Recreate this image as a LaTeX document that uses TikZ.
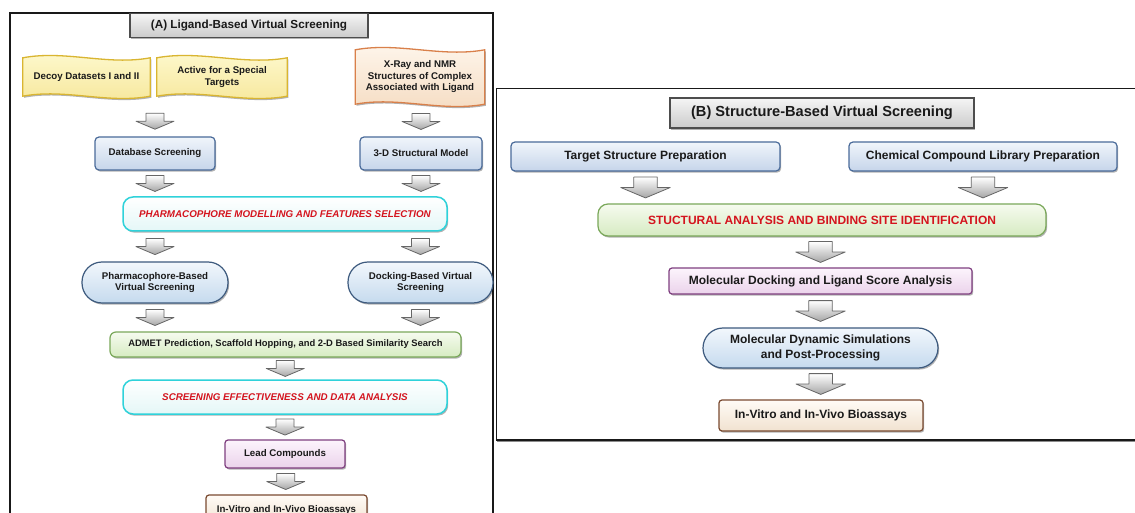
\documentclass[tikz,border=0pt]{standalone}
\usepackage{fontspec}
\setmainfont{Liberation Sans}
\usetikzlibrary{calc,shadows,backgrounds}
\definecolor{txt}{HTML}{1A1A1A}
\definecolor{blueD}{HTML}{4A6B9A}
\definecolor{blueT}{HTML}{F0F5FB}
\definecolor{blueB}{HTML}{C6D5EA}
\definecolor{cyanD}{HTML}{2FD2DA}
\definecolor{cyanB}{HTML}{E4F7F7}
\definecolor{redT}{HTML}{D4141E}
\definecolor{greenD}{HTML}{7AA85A}
\definecolor{greenT}{HTML}{F6FBEF}
\definecolor{greenB}{HTML}{D6EBC2}
\definecolor{purpD}{HTML}{7F3F80}
\definecolor{purpT}{HTML}{FCF4FC}
\definecolor{purpB}{HTML}{EBD3EB}
\definecolor{brownD}{HTML}{7A4A30}
\definecolor{brownT}{HTML}{FFFBF6}
\definecolor{brownB}{HTML}{F1E2D0}
\definecolor{yelD}{HTML}{D9B531}
\definecolor{yelT}{HTML}{FEF9CF}
\definecolor{yelB}{HTML}{F6E79A}
\definecolor{oraD}{HTML}{D9804A}
\definecolor{oraT}{HTML}{FEF6EC}
\definecolor{oraB}{HTML}{F5DCC2}
\definecolor{stD}{HTML}{3D5A7E}
\definecolor{stT}{HTML}{F2F7FC}
\definecolor{stB}{HTML}{C5DAEE}
\definecolor{grayD}{HTML}{4D4D4D}
\definecolor{grayT}{HTML}{F5F5F5}
\definecolor{grayB}{HTML}{CBCBCB}
\newcommand\wavefill[3]{%
  \begin{scope}[on background layer]
  \path[#3] let \p1=(#1.north west), \p2=(#1.south east), \n1={\x2-\x1} in
    (\x1,\y1-#2) .. controls (\x1+\n1/3,\y1+#2) and (\x1+2*\n1/3,\y1-3*#2) .. (\x2,\y1-#2)
    -- (\x2,\y2+#2) .. controls (\x1+2*\n1/3,\y2-#2) and (\x1+\n1/3,\y2+3*#2) .. (\x1,\y2+#2) -- cycle;
  \end{scope}}
\begin{document}
\begin{tikzpicture}[x=1pt,y=-1pt,
  lbl/.style={align=center, inner sep=0pt, text=txt},
  fA/.style={font=\bfseries\fontsize{9.7}{11.5}\selectfont},
  fB/.style={font=\bfseries\fontsize{12}{14.5}\selectfont},
  fR/.style={font=\bfseries\itshape\fontsize{9.8}{12}\selectfont, text=redT},
  shad/.style={drop shadow={shadow xshift=1.2pt, shadow yshift=-1.6pt, opacity=0.3, fill=black}},
  titlebox/.style={lbl, shad, draw=grayD, line width=1.3pt, top color=grayT, bottom color=grayB},
  bluebox/.style={lbl, shad, draw=blueD, line width=1.2pt, rounded corners=4pt, top color=blueT, bottom color=blueB},
  cyanbox/.style={lbl, fR, shad, draw=cyanD, line width=1.5pt, rounded corners=10pt, top color=white, bottom color=cyanB},
  greenbox/.style={lbl, shad, draw=greenD, line width=1.2pt, rounded corners=6pt, top color=greenT, bottom color=greenB},
  purpbox/.style={lbl, shad, draw=purpD, line width=1.2pt, rounded corners=3pt, top color=purpT, bottom color=purpB},
  brownbox/.style={lbl, shad, draw=brownD, line width=1.2pt, rounded corners=3pt, top color=brownT, bottom color=brownB},
  stadium/.style={lbl, shad, draw=stD, line width=1.2pt, rounded corners=20pt, top color=stT, bottom color=stB},
  bannertxt/.style={lbl, fA},
  yelwave/.style={draw=yelD, line width=1.3pt, top color=yelT, bottom color=yelB, shad},
  orawave/.style={draw=oraD, line width=1.3pt, top color=oraT, bottom color=oraB, shad},
  arrowsty/.style={draw=black!60, line width=0.8pt, top color=white, bottom color=black!35, line join=round},
  pics/darrow/.style={code={
    \draw[arrowsty] (-9,-8) -- (9,-8) -- (9,0) -- (19,0) -- (0,8) -- (-19,0) -- (-9,0) -- cycle;}},
  panel/.style={line width=1.2pt, draw=black!90}
]
\clip (0,0) rectangle (1135,513);
\begin{scope}[on background layer]
\fill[white] (0,0) rectangle (1135,513);
\end{scope}

% panel frames
\draw[panel] (10,530) -- (10,13) -- (493,13) -- (493,530);
\draw[black!45, line width=0.8pt] (1140,441.8) -- (497,441.8);
\draw[panel] (1140,88.5) -- (496.5,88.5) -- (496.5,440) -- (1140,440);

% ---------------- panel A ----------------
\node[titlebox, font=\bfseries\fontsize{11.7}{14}\selectfont, minimum width=238, minimum height=24] (titleA) at (249,25.5) {(A) Ligand-Based Virtual Screening};

\node[bannertxt, minimum width=127, minimum height=46] (decoy) at (86.5,77) {Decoy Datasets I and II};
\node[bannertxt, minimum width=130, minimum height=46] (active) at (222,77) {Active for a Special\\Targets};
\node[bannertxt, minimum width=129, minimum height=62] (xray) at (420,77) {X-Ray and NMR\\Structures of Complex\\Associated with Ligand};
\wavefill{decoy}{4pt}{yelwave}
\wavefill{active}{4pt}{yelwave}
\wavefill{xray}{4pt}{orawave}

\node[bluebox, fA, minimum width=120, minimum height=33] (dbs) at (155,153.5) {Database Screening};
\node[bluebox, fA, minimum width=122, minimum height=33] (model) at (421,153.5) {3-D Structural Model};
\node[cyanbox, minimum width=324, minimum height=34] (pharm) at (285,214) {PHARMACOPHORE MODELLING AND FEATURES SELECTION};
\node[stadium, fA, minimum width=146, minimum height=41] (pbvs) at (155,282.5) {Pharmacophore-Based\\Virtual Screening};
\node[stadium, fA, minimum width=145, minimum height=41] (dbvs) at (420.5,282.5) {Docking-Based Virtual\\Screening};
\node[greenbox, font=\bfseries\fontsize{9.4}{11}\selectfont, minimum width=351, minimum height=25] (admet) at (285.5,344.5) {ADMET Prediction, Scaffold Hopping, and 2-D Based Similarity Search};
\node[cyanbox, minimum width=324, minimum height=34] (screff) at (285,397) {SCREENING EFFECTIVENESS AND DATA ANALYSIS};
\node[purpbox, fA, minimum width=120, minimum height=28] (lead) at (285,454) {Lead Compounds};
\node[brownbox, fA, minimum width=161, minimum height=30] (vitroA) at (286.5,510) {In-Vitro and In-Vivo Bioassays};

\pic at ($(decoy.south -| dbs.north)!0.58!(dbs.north)$) {darrow};
\pic at ($(xray.south -| model.north)!0.47!(model.north)$) {darrow};
\pic at ($(dbs.south)!0.5!(dbs.south |- pharm.north)$) {darrow};
\pic at ($(model.south)!0.5!(model.south |- pharm.north)$) {darrow};
\pic at ($(pharm.south -| pbvs.north)!0.5!(pbvs.north)$) {darrow};
\pic at ($(pharm.south -| dbvs.north)!0.5!(dbvs.north)$) {darrow};
\pic at ($(pbvs.south)!0.5!(pbvs.south |- admet.north)$) {darrow};
\pic at ($(dbvs.south)!0.5!(dbvs.south |- admet.north)$) {darrow};
\pic at ($(admet.south)!0.5!(screff.north)$) {darrow};
\pic at ($(screff.south)!0.5!(lead.north)$) {darrow};
\pic at ($(lead.south)!0.5!(vitroA.north)$) {darrow};

% ---------------- panel B ----------------
\node[titlebox, font=\bfseries\fontsize{14.6}{17}\selectfont, minimum width=304, minimum height=30] (titleB) at (822,113) {(B) Structure-Based Virtual Screening};
\node[bluebox, fB, minimum width=269, minimum height=29] (target) at (645.5,156.5) {Target Structure Preparation};
\node[bluebox, fB, minimum width=268, minimum height=29] (chem) at (983,156.5) {Chemical Compound Library Preparation};
\node[greenbox, fB, text=redT, rounded corners=10pt, minimum width=448, minimum height=32] (struct) at (822,220) {STUCTURAL ANALYSIS AND BINDING SITE IDENTIFICATION};
\node[purpbox, fB, minimum width=303, minimum height=26] (dock) at (820.5,281) {Molecular Docking and Ligand Score Analysis};
\node[stadium, fB, minimum width=235, minimum height=40] (mds) at (820.5,348) {Molecular Dynamic Simulations\\and Post-Processing};
\node[brownbox, fB, minimum width=204, minimum height=31] (vitroB) at (821,415.5) {In-Vitro and In-Vivo Bioassays};

\pic[scale=1.3] at ($(target.south)!0.5!(target.south |- struct.north)$) {darrow};
\pic[scale=1.3] at ($(chem.south)!0.5!(chem.south |- struct.north)$) {darrow};
\pic[scale=1.3] at ($(struct.south -| dock.north)!0.5!(dock.north)$) {darrow};
\pic[scale=1.3] at ($(dock.south)!0.5!(mds.north)$) {darrow};
\pic[scale=1.3] at ($(mds.south)!0.5!(vitroB.north)$) {darrow};
\end{tikzpicture}
\end{document}
